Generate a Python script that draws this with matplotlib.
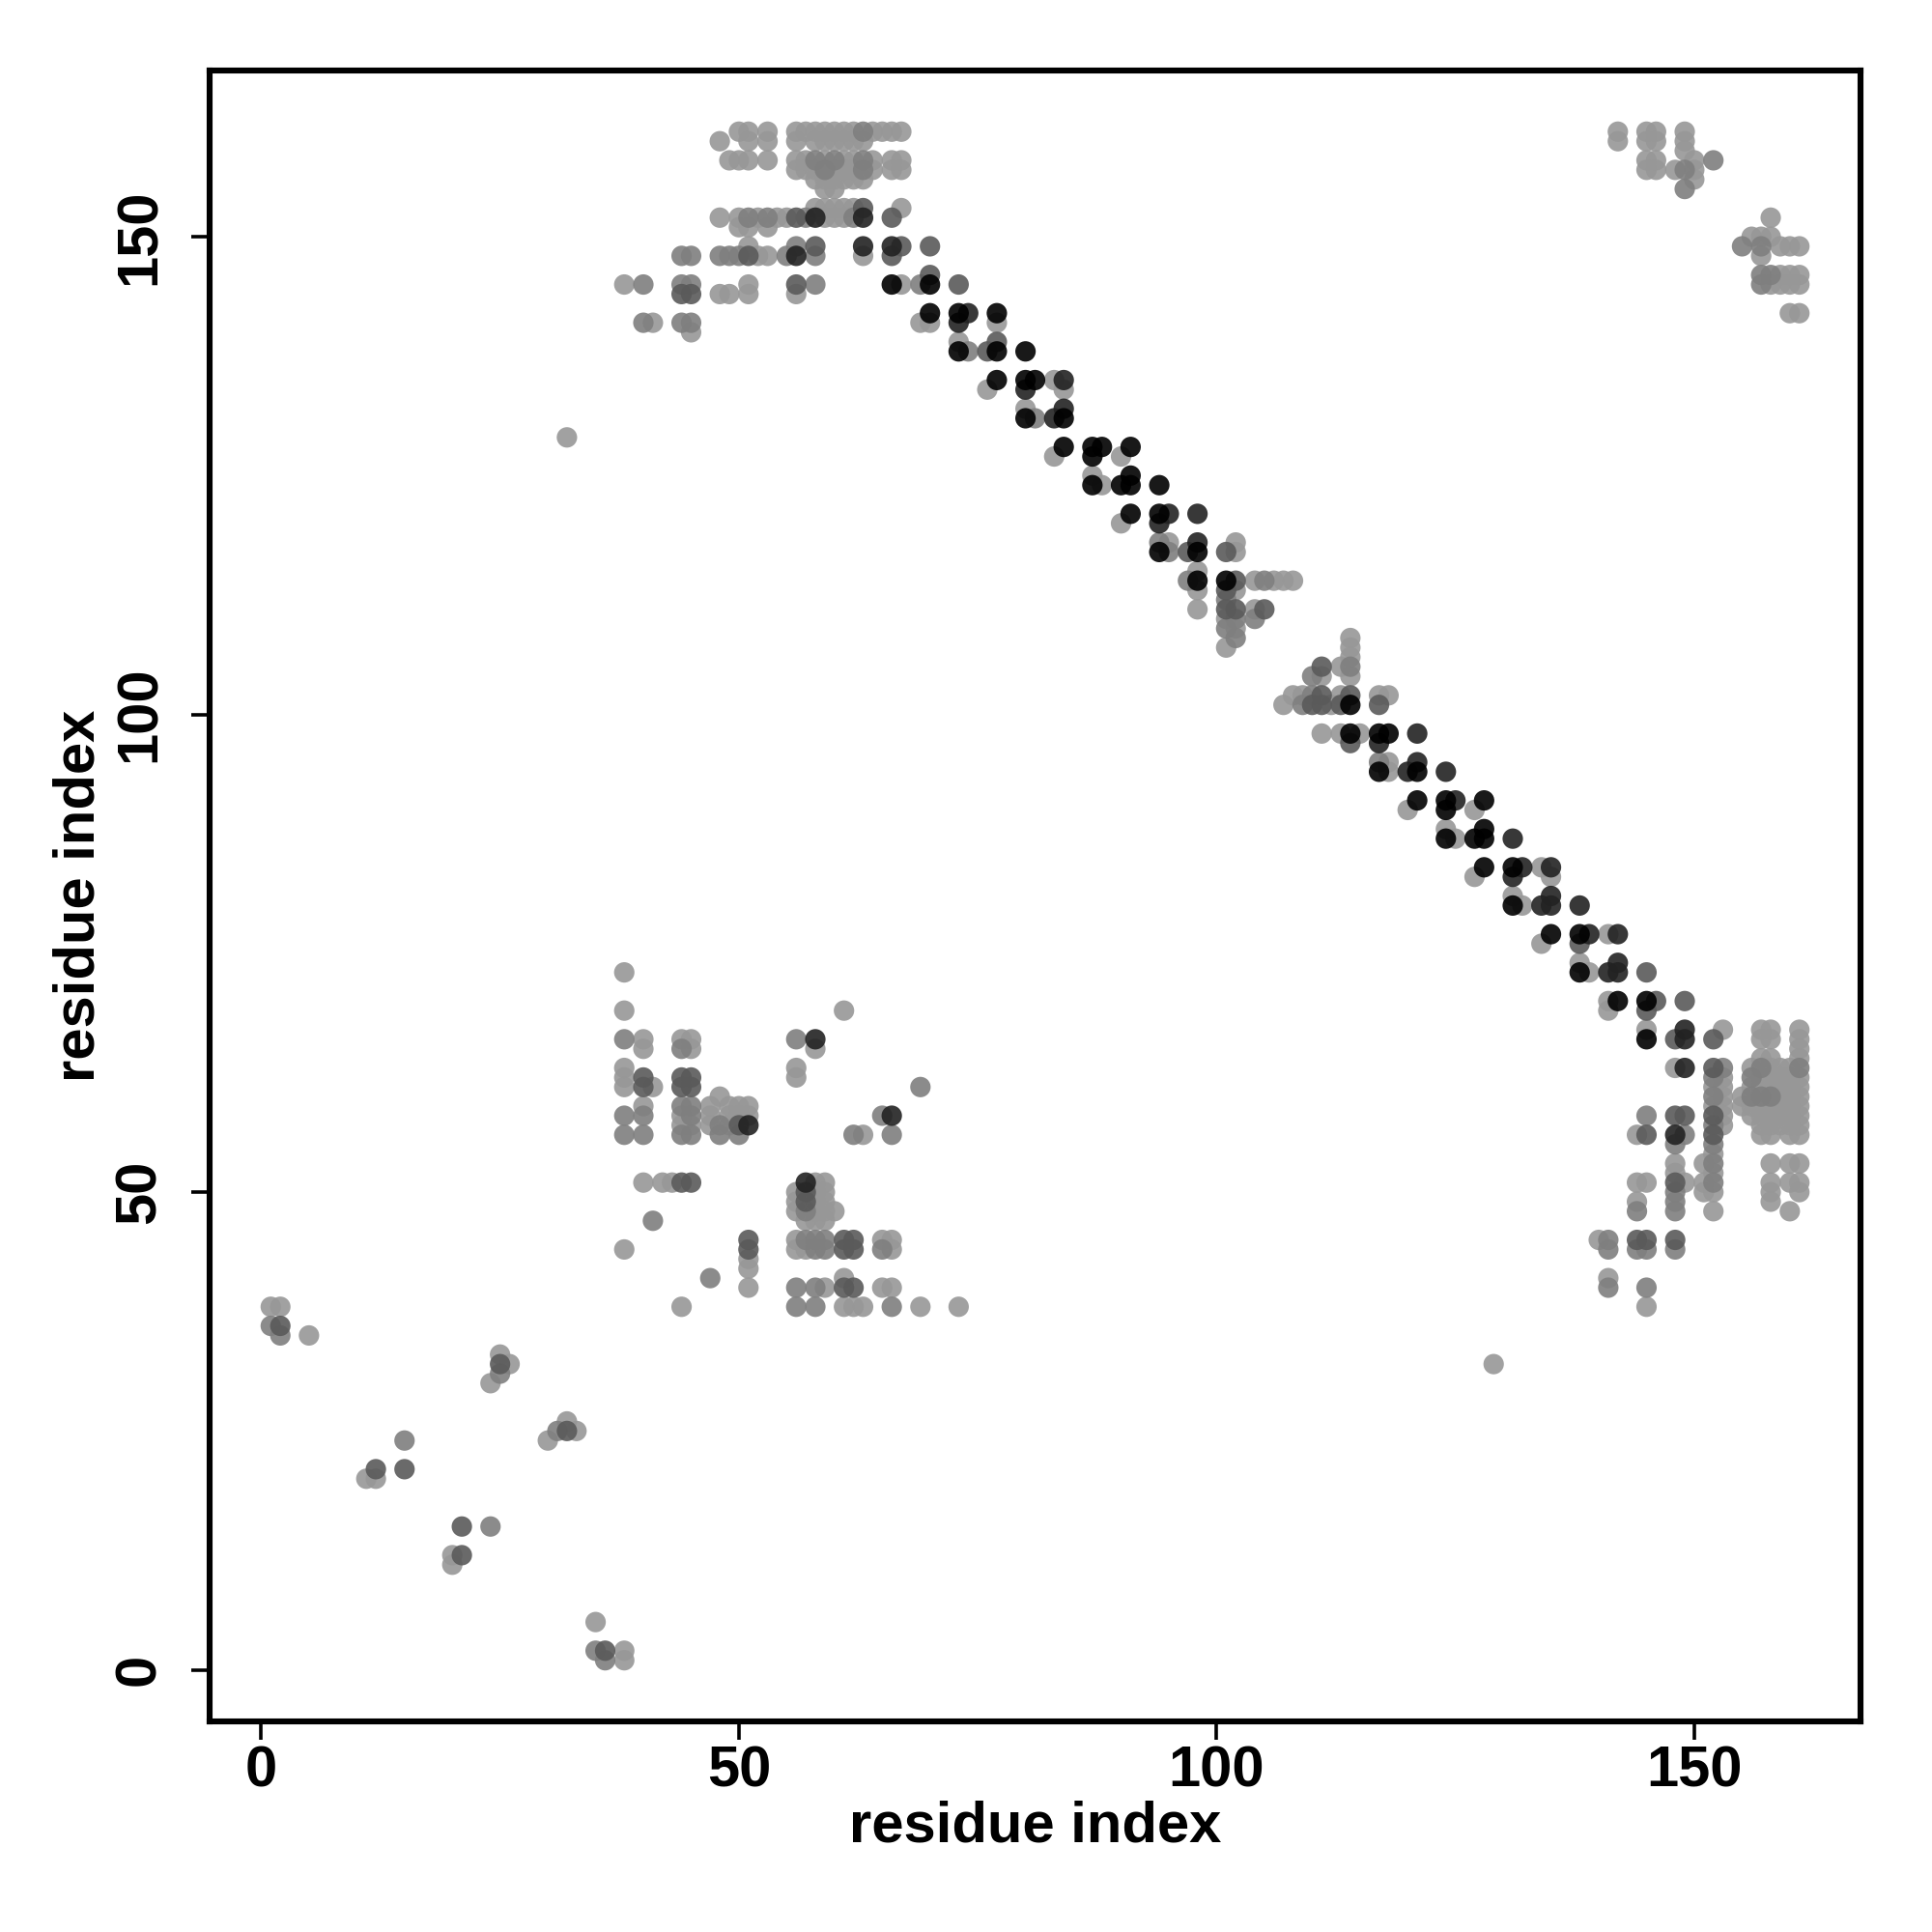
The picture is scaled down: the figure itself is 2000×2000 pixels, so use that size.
import matplotlib
matplotlib.use("Agg")
import matplotlib.pyplot as plt
import numpy as np

# contacts as (residue i, residue j, shade) ; shade 0 = light grey ... 4 = near black
n_term = [(1, 38, 0), (2, 38, 0), (1, 36, 1), (2, 36, 2), (2, 35, 1), (5, 35, 0),
          (25, 33, 0), (26, 32, 0), (25, 32, 2), (25, 31, 1), (24, 30, 0),
          (32, 26, 0), (33, 25, 0), (31, 25, 1), (32, 25, 2), (30, 24, 0),
          (15, 24, 1), (15, 21, 2), (12, 21, 2), (11, 20, 0), (12, 20, 0),
          (21, 15, 2), (24, 15, 1), (21, 12, 2), (20, 12, 0), (20, 11, 0),
          (35, 5, 0), (35, 2, 1), (36, 2, 2), (36, 1, 1), (38, 2, 0), (38, 1, 0),
          (32, 129, 0), (129, 32, 0)]

mid_block = [(38, 73, 0), (38, 69, 0), (61, 69, 0),
             (38, 66, 1), (40, 66, 0), (40, 65, 0), (44, 66, 0), (45, 66, 0), (44, 65, 1), (45, 65, 0),
             (38, 63, 0), (38, 62, 0), (38, 61, 0), (40, 62, 2), (40, 61, 2), (41, 61, 0),
             (44, 62, 2), (45, 62, 2), (44, 61, 2), (45, 61, 2),
             (38, 58, 1), (40, 59, 0), (40, 58, 1), (44, 59, 1), (45, 59, 1), (44, 58, 0), (45, 58, 1),
             (44, 57, 0), (45, 57, 0), (44, 56, 1), (45, 56, 1), (38, 56, 1), (40, 56, 1),
             (47, 59, 0), (48, 60, 0), (49, 59, 0), (50, 59, 0), (51, 59, 0), (47, 58, 0), (49, 58, 0),
             (50, 58, 0), (51, 58, 0), (47, 57, 0), (48, 57, 1), (49, 57, 0), (50, 57, 2), (51, 57, 3),
             (48, 56, 1), (50, 56, 1),
             (56, 66, 1), (58, 66, 3), (58, 65, 0), (56, 63, 0), (56, 62, 0), (69, 61, 1),
             (65, 58, 1), (66, 58, 3), (62, 56, 1), (63, 56, 0), (66, 56, 1),
             (40, 51, 0), (42, 51, 0), (43, 51, 0), (44, 51, 2), (45, 51, 2), (41, 47, 1), (38, 44, 0),
             (47, 41, 1), (51, 45, 2), (51, 44, 2), (51, 43, 0), (51, 42, 0), (51, 40, 0), (44, 38, 0),
             (57, 51, 3), (58, 51, 0), (59, 51, 0), (56, 50, 0), (57, 50, 2), (58, 50, 0), (59, 50, 0),
             (56, 49, 0), (57, 49, 2), (58, 49, 0), (59, 49, 0), (56, 48, 0), (57, 48, 1), (58, 48, 0),
             (59, 48, 0), (60, 48, 0), (57, 47, 0), (58, 47, 0), (59, 47, 0),
             (56, 45, 0), (57, 45, 1), (58, 45, 1), (59, 45, 1), (61, 45, 2), (62, 45, 2), (65, 45, 0), (66, 45, 0),
             (56, 44, 0), (57, 44, 0), (58, 44, 1), (59, 44, 1), (61, 44, 2), (62, 44, 2), (65, 44, 1), (66, 44, 0),
             (56, 40, 1), (58, 40, 1), (59, 40, 0), (61, 41, 0), (61, 40, 2), (62, 40, 2), (65, 40, 0), (66, 40, 0),
             (56, 38, 1), (58, 38, 1), (61, 38, 0), (62, 38, 0), (63, 38, 0), (66, 38, 1), (69, 38, 0), (73, 38, 0)]

c_block = [(141, 70, 0), (142, 70, 4), (141, 69, 0), (145, 70, 4), (146, 70, 2), (145, 69, 2), (149, 70, 2),
           (145, 67, 0), (145, 66, 4), (148, 66, 2), (149, 67, 3), (149, 66, 3), (153, 67, 0), (152, 66, 2),
           (148, 63, 0), (149, 63, 3), (152, 63, 2), (153, 63, 1),
           (152, 62, 1), (152, 61, 0), (152, 60, 1), (152, 59, 0), (152, 58, 2), (152, 57, 1), (152, 56, 2),
           (152, 55, 1), (152, 54, 0), (152, 53, 1), (152, 52, 0), (152, 51, 1), (152, 50, 0), (152, 48, 0),
           (153, 62, 0), (153, 61, 0), (153, 60, 0), (153, 59, 0), (153, 58, 0), (153, 57, 0),
           (151, 53, 0), (151, 51, 0), (151, 50, 0), (155, 60, 0), (155, 59, 0),
           (156, 63, 0), (156, 62, 1), (156, 61, 0), (156, 60, 1), (156, 59, 0), (156, 58, 0),
           (157, 67, 0), (158, 67, 0), (157, 66, 0), (158, 66, 0),
           (157, 64, 0), (157, 63, 1), (157, 62, 0), (157, 61, 0), (157, 60, 1), (157, 59, 0), (157, 58, 0),
           (157, 57, 0), (157, 56, 0),
           (158, 64, 0), (158, 63, 0), (158, 62, 0), (158, 61, 0), (158, 60, 1), (158, 59, 0), (158, 58, 0),
           (158, 57, 0), (158, 56, 0),
           (159, 63, 0), (159, 62, 0), (159, 61, 0), (159, 60, 0), (159, 59, 0), (159, 58, 0), (159, 57, 0),
           (160, 63, 0), (160, 62, 0), (160, 61, 0), (160, 60, 0), (160, 59, 0), (160, 58, 0), (160, 57, 0),
           (160, 56, 0),
           (161, 67, 0), (161, 66, 0), (161, 65, 0), (161, 64, 0), (161, 63, 1), (161, 62, 0), (161, 61, 0),
           (161, 60, 0), (161, 59, 0), (161, 58, 0), (161, 57, 0), (161, 56, 0),
           (158, 53, 0), (160, 53, 0), (161, 53, 0), (158, 51, 0), (158, 50, 0), (158, 49, 0),
           (160, 51, 0), (161, 51, 0), (161, 50, 0), (160, 48, 0),
           (145, 58, 1), (144, 56, 0), (145, 56, 2), (148, 58, 2), (149, 58, 2), (148, 56, 3), (149, 56, 1),
           (148, 55, 1), (148, 53, 0), (148, 52, 0), (148, 51, 2), (148, 50, 1), (148, 49, 1), (148, 48, 1),
           (149, 51, 0), (144, 51, 0), (145, 51, 0), (144, 49, 0), (144, 48, 1),
           (140, 45, 0), (141, 45, 1), (141, 44, 1), (144, 45, 2), (145, 45, 2), (144, 44, 1), (145, 44, 1),
           (148, 45, 2), (148, 44, 1), (141, 41, 0), (141, 40, 1), (145, 40, 1), (145, 38, 0)]

corner = [(142, 161, 0), (142, 160, 0), (145, 161, 0), (146, 161, 0), (145, 160, 0), (146, 160, 0),
          (145, 158, 0), (146, 158, 0), (145, 157, 0), (146, 157, 0),
          (149, 161, 0), (149, 160, 0), (149, 159, 0), (148, 157, 0), (149, 157, 1), (150, 158, 0),
          (150, 157, 0), (150, 156, 0), (149, 155, 1), (152, 158, 1),
          (158, 152, 0), (155, 149, 1), (156, 150, 0), (157, 150, 0), (158, 150, 0), (157, 149, 1),
          (157, 148, 0), (159, 149, 0), (160, 149, 0), (161, 149, 0),
          (157, 146, 1), (158, 146, 1), (159, 146, 0), (160, 146, 0), (161, 146, 0),
          (157, 145, 1), (158, 145, 0), (159, 145, 0), (160, 145, 0), (161, 145, 0),
          (160, 142, 0), (161, 142, 0)]

top_block = [(38, 145, 0), (40, 145, 1), (40, 141, 1), (41, 141, 0),
             (44, 148, 1), (45, 148, 1), (44, 145, 1), (45, 145, 1), (44, 144, 2), (45, 144, 2),
             (44, 141, 1), (45, 141, 1), (45, 140, 0),
             (48, 160, 0), (50, 161, 0), (51, 161, 0), (51, 160, 0), (53, 161, 0), (53, 160, 0),
             (49, 158, 0), (50, 158, 0), (51, 158, 0), (53, 158, 0),
             (48, 152, 0), (50, 152, 0), (51, 152, 1), (52, 152, 0), (53, 152, 1), (54, 152, 0), (55, 152, 0),
             (56, 152, 2), (57, 152, 1), (58, 152, 3), (59, 152, 0), (60, 152, 0), (61, 152, 0), (62, 152, 1),
             (63, 152, 3), (66, 152, 2), (50, 151, 0), (51, 151, 0), (53, 151, 0),
             (58, 153, 0), (59, 153, 0), (60, 153, 0), (61, 153, 0), (62, 153, 0), (63, 153, 2), (67, 153, 0),
             (48, 148, 1), (49, 148, 1), (50, 148, 1), (51, 149, 0), (51, 148, 2), (52, 148, 0), (53, 148, 0),
             (55, 148, 1), (56, 149, 1), (56, 148, 3), (58, 149, 2), (58, 148, 1), (63, 149, 3), (63, 148, 0),
             (48, 144, 0), (49, 144, 0), (51, 145, 0), (51, 144, 0), (56, 145, 2), (56, 144, 0), (58, 145, 1),
             (56, 161, 0), (57, 161, 0), (58, 161, 0), (59, 161, 0), (60, 161, 0), (61, 161, 0), (62, 161, 0),
             (63, 161, 1), (64, 161, 0), (65, 161, 0), (66, 161, 0), (67, 161, 0),
             (56, 160, 0), (58, 160, 0), (59, 160, 0), (60, 160, 0), (61, 160, 0), (62, 160, 0), (63, 160, 0),
             (56, 158, 0), (57, 158, 0), (58, 158, 1), (59, 158, 0), (60, 158, 1), (61, 158, 0), (62, 158, 0),
             (63, 158, 1), (64, 158, 0), (66, 158, 0), (67, 158, 0),
             (56, 157, 0), (57, 157, 0), (58, 157, 0), (59, 157, 1), (60, 157, 0), (61, 157, 0), (62, 157, 0),
             (63, 157, 1), (64, 157, 0), (66, 157, 0), (67, 157, 0),
             (58, 156, 0), (59, 156, 0), (60, 156, 0), (61, 156, 0), (62, 156, 0), (63, 156, 0),
             (59, 155, 0), (60, 155, 0)]

diagonal = [(66, 149, 3), (67, 149, 2), (66, 148, 2), (70, 149, 2),
            (66, 145, 4), (67, 145, 0), (69, 145, 1), (70, 145, 4), (70, 146, 2), (73, 145, 2),
            (70, 142, 4), (69, 141, 0), (70, 141, 0), (73, 142, 4), (74, 142, 3), (73, 141, 3),
            (77, 142, 4), (77, 141, 0),
            (73, 139, 0), (73, 138, 4), (74, 138, 1), (76, 138, 2), (77, 139, 2), (77, 138, 4), (80, 138, 4),
            (77, 135, 4), (76, 134, 0), (80, 135, 4), (81, 135, 4), (80, 134, 3), (83, 135, 0), (84, 135, 3),
            (84, 134, 0), (80, 132, 0), (80, 131, 4), (81, 131, 1), (83, 131, 3), (84, 132, 3), (84, 131, 4),
            (84, 128, 4), (83, 127, 0),
            (87, 128, 4), (88, 128, 4), (87, 127, 4), (90, 127, 0), (91, 128, 4),
            (87, 125, 0), (87, 124, 4), (88, 124, 0), (90, 124, 4), (91, 125, 4), (91, 124, 4), (94, 124, 4),
            (91, 121, 4), (90, 120, 0), (94, 121, 4), (95, 121, 3), (94, 120, 3), (98, 121, 3),
            (94, 118, 1), (95, 118, 0), (94, 117, 4), (95, 117, 1), (97, 117, 2), (98, 118, 3), (98, 117, 4),
            (101, 117, 2), (102, 118, 0), (102, 117, 0),
            (97, 114, 1), (98, 115, 0), (98, 114, 4), (98, 113, 0), (98, 111, 0),
            (101, 114, 4), (102, 114, 2), (104, 114, 0), (105, 114, 1), (106, 114, 0), (107, 114, 0), (108, 114, 0),
            (101, 113, 2), (101, 112, 1), (101, 111, 2), (101, 110, 0), (101, 109, 1), (101, 107, 0),
            (102, 113, 0), (102, 111, 2), (102, 110, 1), (102, 109, 0), (102, 108, 1),
            (104, 111, 0), (105, 111, 2), (104, 110, 1),
            (114, 108, 0), (114, 107, 0), (114, 106, 0), (114, 105, 1), (114, 104, 0), (113, 105, 0),
            (111, 105, 2), (110, 104, 1), (111, 104, 0),
            (107, 101, 0), (108, 102, 0), (109, 102, 0), (110, 102, 1), (111, 102, 2), (109, 101, 1),
            (110, 101, 2), (111, 101, 2), (112, 101, 0), (113, 102, 0), (113, 101, 2), (114, 102, 2),
            (114, 101, 4), (117, 102, 0), (118, 102, 0), (117, 101, 2),
            (111, 98, 0), (113, 98, 0), (114, 98, 4), (115, 98, 0), (114, 97, 2), (117, 98, 4), (118, 98, 4),
            (117, 97, 3), (121, 98, 3),
            (117, 95, 1), (118, 95, 0), (117, 94, 4), (118, 94, 0), (120, 94, 3), (121, 95, 3), (121, 94, 4),
            (124, 94, 3), (121, 91, 4), (120, 90, 0), (124, 91, 4), (125, 91, 3), (124, 90, 4),
            (124, 88, 0), (125, 87, 0), (124, 87, 4),
            (128, 91, 4), (127, 90, 0), (127, 87, 4), (128, 88, 4), (128, 87, 4), (131, 87, 3),
            (128, 84, 4), (127, 83, 0), (131, 84, 4), (132, 84, 3), (131, 83, 3), (134, 84, 0), (135, 84, 3),
            (135, 83, 0), (131, 81, 0), (131, 80, 4), (132, 80, 0), (134, 80, 3), (135, 81, 3), (135, 80, 3),
            (138, 80, 3), (135, 77, 4), (134, 76, 0), (138, 77, 4), (139, 77, 3), (138, 76, 2), (141, 77, 0),
            (142, 77, 3), (138, 74, 0), (138, 73, 4), (139, 73, 0), (141, 73, 3), (142, 74, 3), (142, 73, 3),
            (145, 73, 2)]

shade_colors = ['#979797', '#7f7f7f', '#5a5a5a', '#222222', '#000000']

contacts = n_term + mid_block + c_block + corner + top_block + diagonal
contacts = sorted(contacts, key=lambda c: c[2])
res_i = np.array([c[0] for c in contacts])
res_j = np.array([c[1] for c in contacts])
cols = [shade_colors[c[2]] for c in contacts]

plt.rcParams['font.family'] = ['Liberation Sans', 'DejaVu Sans']

fig = plt.figure(figsize=(10, 10), dpi=200)
ax = fig.add_axes([0.1085, 0.109, 0.8545, 0.8545])

ax.scatter(res_i, res_j, s=58, c=cols, alpha=0.9, linewidths=0, zorder=3)

ax.set_xlim(-5.4, 167.4)
ax.set_ylim(-5.4, 167.4)
ax.set_xticks([0, 50, 100, 150])
ax.set_yticks([0, 50, 100, 150])

for sp in ax.spines.values():
    sp.set_linewidth(2.2)
ax.tick_params(axis='both', direction='out', length=7, width=1.3, labelsize=21.5)
ax.tick_params(axis='x', pad=2)
ax.tick_params(axis='y', pad=9)
for lab in ax.get_xticklabels():
    lab.set_fontweight('bold')
for lab in ax.get_yticklabels():
    lab.set_fontweight('bold')
    lab.set_rotation(90)
    lab.set_va('center')

ax.set_xlabel('residue index', fontsize=21.5, fontweight='bold', va='center')
ax.xaxis.set_label_coords(0.5, -0.064)
ax.set_ylabel('residue index', fontsize=21.5, fontweight='bold', va='center')
ax.yaxis.set_label_coords(-0.079, 0.5)

fig.savefig('out.png', dpi=200, facecolor='white')
